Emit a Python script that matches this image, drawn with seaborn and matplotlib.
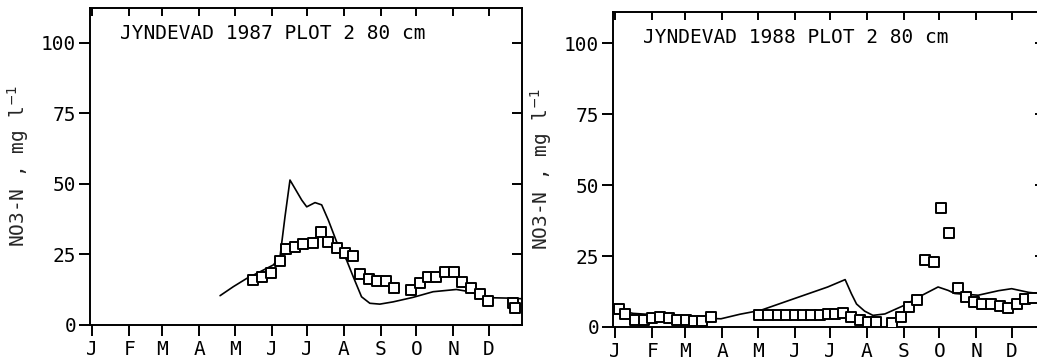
import matplotlib
matplotlib.use("Agg")
import matplotlib.pyplot as plt
import seaborn as sns
import numpy as np

# dag i året for månedsstart
maaned_dage = [0, 31, 59, 90, 120, 151, 181, 212, 243, 273, 304, 334]
maaned_navne = ["J", "F", "M", "A", "M", "J", "J", "A", "S", "O", "N", "D"]
y_ticks = [0, 25, 50, 75, 100]

# 1987 - simuleret (linje)
sim87_dag = [107.6, 118.8, 130, 140, 152.5, 158.1, 162.3, 166.5, 170.7, 176.4, 180.6,
             187.6, 193.2, 198.8, 205.8, 214.2, 219.8, 226.8, 233.8, 242.2, 253.4,
             270.2, 287.1, 306.7, 317.9, 332, 354.3, 362]
sim87_no3 = [10.4, 13.6, 16.5, 18.6, 21.3, 24.2, 38.4, 51.4, 48.4, 44.3, 41.9,
             43.4, 42.6, 37.2, 29.5, 23.0, 17.1, 10.0, 7.7, 7.4, 8.2,
             9.8, 11.8, 12.6, 11.8, 9.7, 9.5, 9.3]

# 1987 - målt (kvadrater)
obs87_dag = [135.7, 142.7, 150.3, 158.1, 163.2, 170.7, 177.7, 185.6, 192.6, 198.8,
             205.8, 212.8, 219.3, 225.4, 233.2, 240.0, 247.3, 254.3, 268.3, 275.9,
             282.9, 289.9, 296.9, 304.5, 311.8, 319.3, 326.3, 333.3, 354.3, 355.7]
obs87_no3 = [16.0, 17.1, 18.6, 22.8, 26.8, 27.8, 28.6, 29.0, 32.8, 29.6,
             27.2, 25.6, 24.5, 18.1, 16.2, 15.6, 15.6, 13.0, 12.4, 14.8,
             17.1, 17.1, 18.9, 18.9, 15.4, 13.2, 11.0, 8.6, 7.7, 5.9]

# 1988 - simuleret (linje)
sim88_dag = [0, 8, 15, 30, 44, 60, 80, 89, 105, 122.6, 150.7, 178.9, 193.6, 198.9,
             203.2, 210, 217, 227.1, 243.7, 255.3, 271.9, 280.4, 286, 305.7,
             322.9, 333.9, 348.3, 362]
sim88_no3 = [6.5, 5.4, 4.8, 4.4, 4.1, 3.6, 3.0, 2.9, 4.5, 5.9, 10.0, 14.1, 16.7, 11.7,
             8.1, 5.6, 4.1, 4.6, 7.7, 10.5, 14.1, 12.9, 11.8, 11.2,
             12.8, 13.5, 12.2, 11.6]

# 1988 - målt (kvadrater)
obs88_dag = [2.8, 8.5, 16.9, 23.9, 31.0, 38.0, 45.0, 52.2, 59.2, 66.2, 73.3, 80.3,
             121, 129, 136.9, 144, 151, 158, 165, 172.2, 179.2, 185.4, 191.6, 198.6,
             205.7, 212.8, 219.8, 233, 240.9, 247.4, 254.4, 260.6, 268.2, 274.1,
             281.2, 288.8, 295.8, 302.3, 309.3, 316.9, 324, 331.1, 338.2, 345.2, 352.2]
obs88_no3 = [6.5, 4.7, 2.4, 2.4, 3.0, 3.5, 3.0, 2.4, 2.4, 2.2, 2.2, 3.5,
             4.1, 4.1, 4.1, 4.1, 4.1, 4.1, 4.1, 4.4, 4.7, 4.7, 5.0, 3.5,
             2.6, 1.8, 1.8, 1.4, 3.5, 7.1, 9.4, 23.5, 22.9, 41.8,
             33.2, 13.9, 10.4, 8.8, 8.2, 8.0, 7.3, 6.7, 8.2, 10.0, 10.2]

sns.set_style("white")
plt.rcParams['font.family'] = ['DejaVu Sans Mono', 'DejaVu Sans']
plt.rcParams['mathtext.fontset'] = 'dejavusans'

fig = plt.figure(figsize=(10.37, 3.61), dpi=100)
ax1 = fig.add_axes([90 / 1037, 36 / 361, 432 / 1037, 317 / 361])
ax2 = fig.add_axes([613 / 1037, 34 / 361, 432 / 1037, 315 / 361])

paneler = [
    (ax1, sim87_dag, sim87_no3, obs87_dag, obs87_no3, "JYNDEVAD 1987 PLOT 2 80 cm", 112.4),
    (ax2, sim88_dag, sim88_no3, obs88_dag, obs88_no3, "JYNDEVAD 1988 PLOT 2 80 cm", 111.0),
]

fs = 14
xlim = (-2, 362)

for ax, sd, sv, od, ov, titel, ytop in paneler:
    sns.lineplot(x=sd, y=sv, ax=ax, color='black', linewidth=1.2, sort=False,
                 estimator=None, zorder=2)
    sns.scatterplot(x=od, y=ov, ax=ax, marker='s', s=46, facecolor='white',
                    edgecolor='black', linewidth=1.4, zorder=3)

    ax.set_xlim(*xlim)
    ax.set_ylim(0, ytop)
    ax.set_xticks(maaned_dage)
    ax.set_xticklabels(maaned_navne, fontsize=fs)
    ax.set_yticks(y_ticks)
    ax.set_yticklabels([str(v) for v in y_ticks], fontsize=fs)
    ax.set_ylabel(r"NO3-N , mg l$^{-1}$", fontsize=fs, labelpad=7)
    ax.set_xlabel("")

    # samme positioner som minor-streger: indad paa top og hoejre side
    ax.xaxis.remove_overlapping_locs = False
    ax.yaxis.remove_overlapping_locs = False
    ax.set_xticks(maaned_dage, minor=True)
    ax.set_yticks(y_ticks, minor=True)

    ax.tick_params(axis='both', which='both', colors='black', width=1.4)
    ax.tick_params(axis='y', which='major', left=True, right=False, direction='out',
                   length=8, pad=2)
    ax.tick_params(axis='x', which='major', bottom=True, top=False, direction='out',
                   length=8, pad=3)
    ax.tick_params(axis='x', which='minor', bottom=False, top=True, direction='in',
                   length=6, labelbottom=False, labeltop=False)
    ax.tick_params(axis='y', which='minor', left=False, right=True, direction='in',
                   length=7, labelleft=False, labelright=False)

    for s in ax.spines.values():
        s.set_visible(True)
        s.set_linewidth(1.4)
        s.set_color('black')

    ax.text(0.07, 0.92, titel, transform=ax.transAxes, fontsize=fs,
            ha='left', va='center', color='black')

fig.savefig("out.png", dpi=100)
plt.close(fig)
